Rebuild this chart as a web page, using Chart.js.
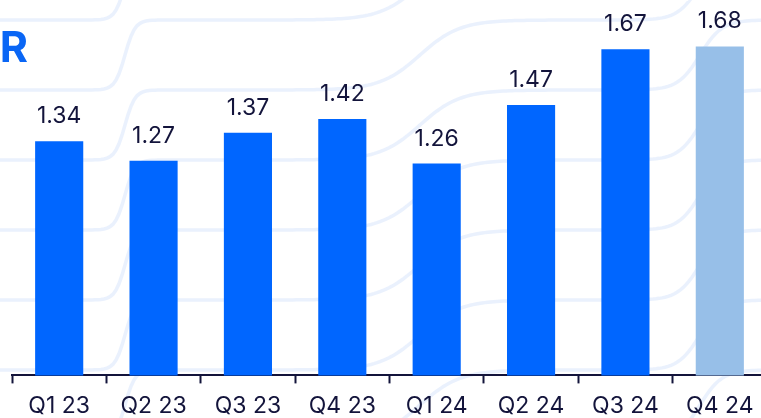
<!DOCTYPE html>
<html>
<head>
<meta charset="utf-8">
<script src="https://cdn.jsdelivr.net/npm/chart.js@4.4.1/dist/chart.umd.min.js"></script>
<style>
  html, body { margin: 0; padding: 0; background: #ffffff; overflow: hidden; }
  #wrap { position: relative; width: 767px; height: 429px; }
</style>
</head>
<body>
<div id="wrap"><canvas id="myChart"></canvas></div>
<script>
const quarters = ['Q1 23', 'Q2 23', 'Q3 23', 'Q4 23', 'Q1 24', 'Q2 24', 'Q3 24', 'Q4 24'];
const values = [1.34, 1.27, 1.37, 1.42, 1.26, 1.47, 1.67, 1.68];
const barColors = ['#0066ff', '#0066ff', '#0066ff', '#0066ff', '#0066ff', '#0066ff', '#0066ff', '#97bfe8'];

const navy = '#13143b';

// faint wavy pattern in the background
const wavesPlugin = {
  id: 'waves',
  beforeDraw(chart) {
    const c = chart.ctx;
    const steps = [[125, 10], [420, 40], [700, 22]];
    const stair = x => steps.reduce((s, [x0, w]) => s + 0.5 * (1 + Math.tanh((x - x0) / w)), 0);
    c.save();
    c.strokeStyle = 'rgba(214, 228, 252, 0.5)';
    c.lineWidth = 3.5;
    for (let k = -4; k < 9; k++) {
      const base = 90 + 70 * k;
      c.beginPath();
      for (let x = -10; x <= 780; x += 3) {
        const y = base - 70 * stair(x);
        if (x === -10) c.moveTo(x, y); else c.lineTo(x, y);
      }
      c.stroke();
    }
    // heading letter at top left
    c.fillStyle = '#0a66f5';
    c.font = 'bold 43px Inter';
    c.textAlign = 'right';
    c.textBaseline = 'alphabetic';
    c.fillText('R', 28, 62);
    c.restore();
  }
};

// value printed above each bar
const valueLabels = {
  id: 'valueLabels',
  afterDatasetsDraw(chart) {
    const c = chart.ctx;
    const meta = chart.getDatasetMeta(0);
    c.save();
    c.fillStyle = navy;
    c.font = '23px Inter';
    c.textAlign = 'center';
    c.textBaseline = 'alphabetic';
    meta.data.forEach((bar, i) => {
      c.fillText(values[i].toFixed(2), bar.x, bar.y - 18);
    });
    c.restore();
  }
};

const ctx = document.getElementById('myChart');

new Chart(ctx, {
  type: 'bar',
  data: {
    labels: quarters,
    datasets: [{
      data: values,
      backgroundColor: barColors,
      borderWidth: 0,
      categoryPercentage: 1,
      barPercentage: 0.51
    }]
  },
  options: {
    responsive: true,
    maintainAspectRatio: false,
    animation: false,
    layout: { padding: { left: 12, right: 0, top: 13, bottom: 0 } },
    plugins: {
      legend: { display: false },
      tooltip: { enabled: false }
    },
    scales: {
      y: {
        display: false,
        min: 0.5,
        max: 1.8
      },
      x: {
        grid: {
          display: true,
          offset: true,
          drawOnChartArea: false,
          drawTicks: true,
          tickLength: 8,
          tickWidth: 2,
          color: navy
        },
        border: { display: true, color: navy, width: 2 },
        ticks: {
          color: navy,
          padding: 9,
          font: { family: 'Inter', size: 23 }
        }
      }
    }
  },
  plugins: [wavesPlugin, valueLabels]
});
</script>
</body>
</html>
